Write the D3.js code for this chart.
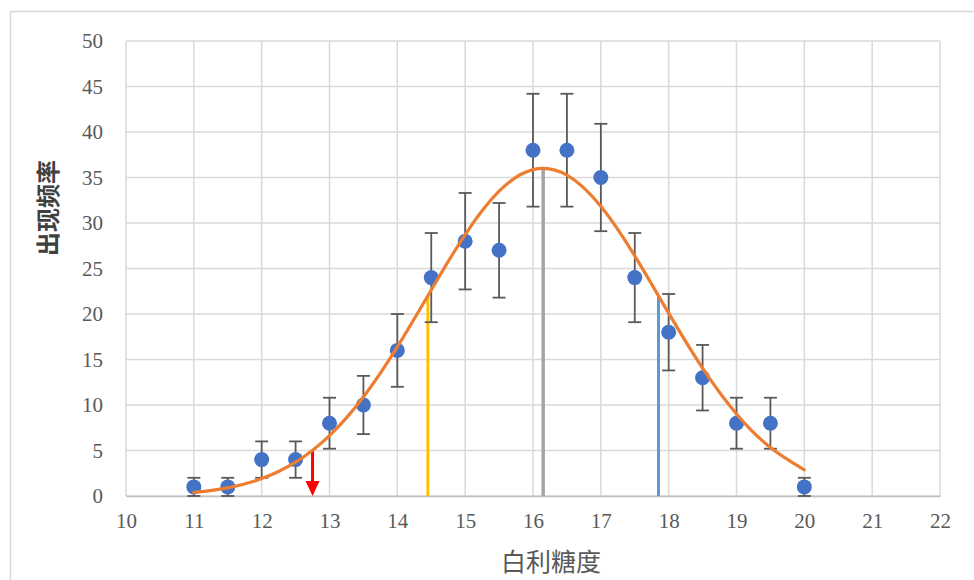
<!DOCTYPE html>
<html>
<head>
<meta charset="utf-8">
<script src="https://cdn.jsdelivr.net/npm/d3@7"></script>
<style>
  html, body { margin: 0; padding: 0; background: #fff; }
  svg { display: block; }
</style>
</head>
<body>
<svg id="chart" width="974" height="580"></svg>
<script>
// Observed frequency of each Brix reading, with error bar half-widths
const brix = [11, 11.5, 12, 12.5, 13, 13.5, 14, 14.5, 15, 15.5, 16, 16.5, 17, 17.5, 18, 18.5, 19, 19.5, 20];
const freq = [1, 1, 4, 4, 8, 10, 16, 24, 28, 27, 38, 38, 35, 24, 18, 13, 8, 8, 1];
const errs = [1, 1, 2, 2, 2.8, 3.2, 4, 4.9, 5.3, 5.2, 6.2, 6.2, 5.9, 4.9, 4.2, 3.6, 2.8, 2.8, 1];

// Fitted distribution curve
const fitX = [11, 11.5, 12, 12.5, 13, 13.5, 14, 14.5, 15, 15.5, 16, 16.5, 17, 17.5, 18, 18.5, 19, 19.5, 20];
const fitY = [0.39, 0.9, 1.91, 3.72, 6.64, 10.88, 16.38, 22.64, 28.73, 33.5, 35.86, 35.26, 31.83, 26.39, 20.09, 14.05, 9.02, 5.32, 2.88];

// Reference markers: mean, mean ± 1 sd, mean − 2 sd
const meanX = 16.15, meanY = 36;
const lowSdX = 14.45, lowSdY = 22;
const highSdX = 17.85, highSdY = 22;
const arrowX = 12.75, arrowY = 5;

const xTicks = [10, 11, 12, 13, 14, 15, 16, 17, 18, 19, 20, 21, 22];
const yTicks = [0, 5, 10, 15, 20, 25, 30, 35, 40, 45, 50];

const svg = d3.select("#chart");
const plotL = 126, plotR = 940, plotT = 41, plotB = 496;
const tickFont = "'Liberation Serif', 'Times New Roman', serif";

const x = d3.scaleLinear().domain([10, 22]).range([plotL, plotR]);
const y = d3.scaleLinear().domain([0, 50]).range([plotB, plotT]);

// Outer frame
svg.append("rect")
  .attr("x", 10.5).attr("y", 11.5)
  .attr("width", 1000).attr("height", 700)
  .attr("fill", "none").attr("stroke", "#d9d9d9").attr("stroke-width", 1.5);

// Grid
const grid = svg.append("g");
grid.selectAll("line.h").data(yTicks).join("line")
  .attr("x1", plotL).attr("x2", plotR)
  .attr("y1", d => y(d)).attr("y2", d => y(d))
  .attr("stroke", "#d9d9d9").attr("stroke-width", 1.5);
grid.selectAll("line.v").data(xTicks).join("line")
  .attr("x1", d => x(d)).attr("x2", d => x(d))
  .attr("y1", plotT).attr("y2", plotB)
  .attr("stroke", "#d9d9d9").attr("stroke-width", 1.5);

// Axes
const xAxis = svg.append("g")
  .attr("transform", `translate(0,${plotB})`)
  .call(d3.axisBottom(x).tickValues(xTicks).tickSize(0).tickPadding(17).tickFormat(d3.format("d")));
xAxis.attr("font-family", tickFont).attr("font-size", 21);
xAxis.select(".domain").attr("stroke", "#bfbfbf").attr("stroke-width", 1.5);
xAxis.selectAll("text")
  .style("font-family", tickFont)
  .style("font-size", "21px").attr("fill", "#595959");

const yAxis = svg.append("g")
  .attr("transform", `translate(${plotL},0)`)
  .call(d3.axisLeft(y).tickValues(yTicks).tickSize(0).tickPadding(23).tickFormat(d3.format("d")));
yAxis.attr("font-family", tickFont).attr("font-size", 21);
yAxis.select(".domain").remove();
yAxis.selectAll("text")
  .style("font-family", tickFont)
  .style("font-size", "21px").attr("fill", "#595959");

// Axis titles
svg.append("text")
  .attr("x", 551).attr("y", 571)
  .attr("text-anchor", "middle")
  .attr("font-family", "'Noto Sans CJK SC', sans-serif")
  .attr("font-size", 25).attr("fill", "#595959")
  .text("白利糖度");

svg.append("text")
  .attr("transform", "translate(57,208) rotate(-90)")
  .attr("text-anchor", "middle")
  .attr("font-family", "'Noto Sans CJK SC', sans-serif")
  .attr("font-weight", "bold")
  .attr("font-size", 24).attr("fill", "#404040")
  .text("出现频率");

// Vertical reference lines
const refs = [
  { x: lowSdX, y: lowSdY, color: "#ffc000", w: 3 },
  { x: highSdX, y: highSdY, color: "#5b9bd5", w: 3 },
  { x: meanX, y: meanY, color: "#a5a5a5", w: 3.5 }
];
svg.append("g").selectAll("line").data(refs).join("line")
  .attr("x1", d => x(d.x)).attr("x2", d => x(d.x))
  .attr("y1", d => y(d.y)).attr("y2", y(0))
  .attr("stroke", d => d.color).attr("stroke-width", d => d.w);

// Red arrow at mean − 2 sd
const ax = x(arrowX);
svg.append("line")
  .attr("x1", ax).attr("x2", ax)
  .attr("y1", y(arrowY)).attr("y2", y(0) - 14)
  .attr("stroke", "#ff0000").attr("stroke-width", 3);
svg.append("path")
  .attr("d", `M${ax - 7},${y(0) - 15} L${ax + 7},${y(0) - 15} L${ax},${y(0)} Z`)
  .attr("fill", "#ff0000");

// Error bars
const pts = brix.map((b, i) => ({ x: b, v: freq[i], e: errs[i] }));
const eb = svg.append("g").attr("stroke", "#595959").attr("stroke-width", 1.8);
eb.selectAll("line.s").data(pts).join("line")
  .attr("x1", d => x(d.x)).attr("x2", d => x(d.x))
  .attr("y1", d => y(d.v + d.e)).attr("y2", d => y(Math.max(0, d.v - d.e)));
eb.selectAll("line.t").data(pts).join("line")
  .attr("x1", d => x(d.x) - 6.5).attr("x2", d => x(d.x) + 6.5)
  .attr("y1", d => y(d.v + d.e)).attr("y2", d => y(d.v + d.e));
eb.selectAll("line.b").data(pts).join("line")
  .attr("x1", d => x(d.x) - 6.5).attr("x2", d => x(d.x) + 6.5)
  .attr("y1", d => y(Math.max(0, d.v - d.e))).attr("y2", d => y(Math.max(0, d.v - d.e)));

// Data points
svg.append("g").selectAll("circle").data(pts).join("circle")
  .attr("cx", d => x(d.x)).attr("cy", d => y(d.v))
  .attr("r", 7.5).attr("fill", "#4472c4");

// Fitted curve
const fit = fitX.map((fx, i) => [fx, fitY[i]]);
svg.append("path")
  .datum(fit)
  .attr("d", d3.line().x(d => x(d[0])).y(d => y(d[1])).curve(d3.curveNatural))
  .attr("fill", "none").attr("stroke", "#ed7d31").attr("stroke-width", 3.2)
  .attr("stroke-linecap", "round");
</script>
</body>
</html>
